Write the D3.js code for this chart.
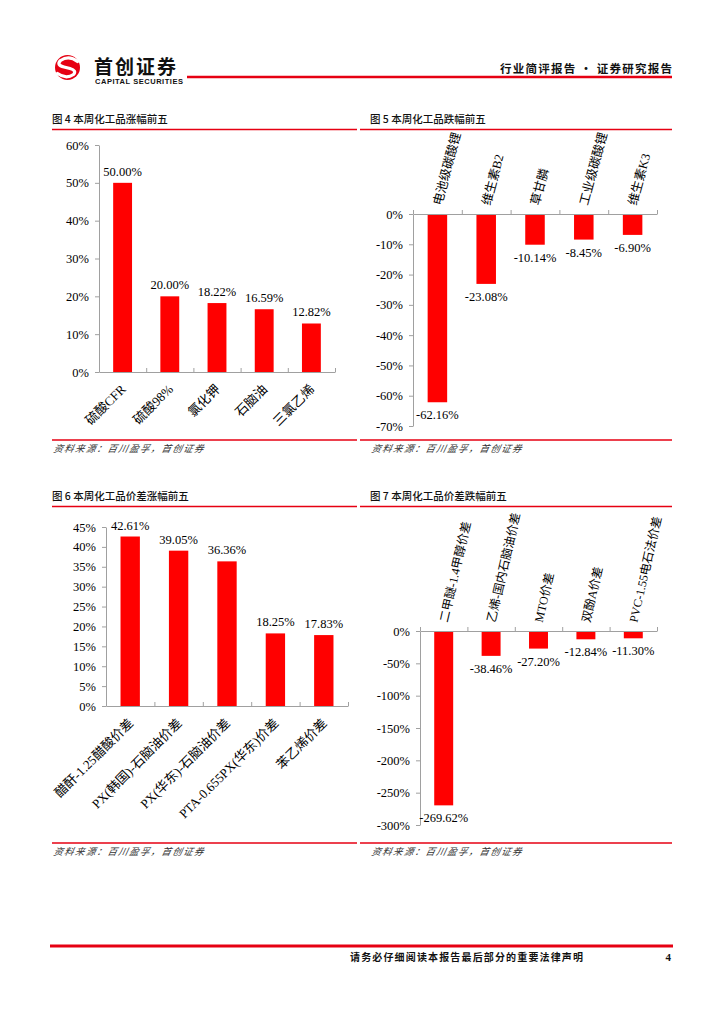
<!DOCTYPE html>
<html><head><meta charset="utf-8">
<script src="https://cdn.jsdelivr.net/npm/d3@7"></script>
<style>body{margin:0;background:#fff} svg{display:block}</style>
</head><body><svg id="c" width="724" height="1024"></svg>
<script>
// ---- data ----
const cat4 = ["硫酸CFR","硫酸98%","氯化钾","石脑油","三氯乙烯"];
const val4 = [50.00,20.00,18.22,16.59,12.82];
const ticks4 = [0,10,20,30,40,50,60];
const cat5 = ["电池级碳酸锂","维生素B2","草甘膦","工业级碳酸锂","维生素K3"];
const val5 = [-62.16,-23.08,-10.14,-8.45,-6.90];
const ticks5 = [0,-10,-20,-30,-40,-50,-60,-70];
const cat6 = ["醋酐-1.25醋酸价差","PX(韩国)-石脑油价差","PX(华东)-石脑油价差","PTA-0.655PX(华东)价差","苯乙烯价差"];
const val6 = [42.61,39.05,36.36,18.25,17.83];
const ticks6 = [0,5,10,15,20,25,30,35,40,45];
const cat7 = ["二甲醚-1.4甲醇价差","乙烯-国内石脑油价差","MTO价差","双酚A价差","PVC-1.55电石法价差"];
const val7 = [-269.62,-38.46,-27.20,-12.84,-11.30];
const ticks7 = [0,-50,-100,-150,-200,-250,-300];
const titles = ["图 4 本周化工品涨幅前五","图 5 本周化工品跌幅前五","图 6 本周化工品价差涨幅前五","图 7 本周化工品价差跌幅前五"];
const sourceText = "资料来源：百川盈孚，首创证券";

const svg = d3.select("#c");
const RED = "#ff0000", LINE_RED = "#e60012", AXIS = "#a0a0a0";
const SERIF = "'Liberation Serif','Times New Roman','Noto Sans CJK SC',serif";
const SANS = "'Noto Sans CJK SC','Noto Sans',sans-serif";

// ---- header ----
svg.append("circle").attr("cx",67.5).attr("cy",67.5).attr("r",12.5).attr("fill","#e60012");
svg.append("path").attr("d","M77.5 61.5 Q69 55 60.5 60.5 Q56 65 64 67 L70 68.5 Q77 70.5 73.5 74.5 Q66 79.5 57.5 73.5")
  .attr("fill","none").attr("stroke","#fff").attr("stroke-width",3.2).attr("stroke-linecap","round");
svg.append("text").attr("x",94).attr("y",74).attr("font-family",SANS).attr("font-weight","bold")
  .attr("font-size",19).attr("textLength",82).attr("fill","#111").text("首创证券");
svg.append("text").attr("x",95).attr("y",84).attr("font-family","'Liberation Sans',Arial,sans-serif").attr("font-weight","bold")
  .attr("font-size",7.5).attr("textLength",88).attr("fill","#111").text("CAPITAL SECURITIES");
svg.append("line").attr("x1",187).attr("x2",672).attr("y1",77).attr("y2",77).attr("stroke",LINE_RED).attr("stroke-width",2.5);
svg.append("text").attr("x",672).attr("y",73).attr("text-anchor","end").attr("font-family",SANS).attr("font-weight","bold")
  .attr("font-size",11.5).attr("textLength",172).attr("fill","#111").text("行业简评报告 · 证券研究报告");

// ---- footer ----
svg.append("line").attr("x1",50).attr("x2",673).attr("y1",946).attr("y2",946).attr("stroke",LINE_RED).attr("stroke-width",3);
svg.append("text").attr("x",350).attr("y",961).attr("font-family",SANS).attr("font-weight","bold")
  .attr("font-size",10).attr("textLength",233).attr("fill","#111").text("请务必仔细阅读本报告最后部分的重要法律声明");
svg.append("text").attr("x",671).attr("y",961).attr("text-anchor","end").attr("font-family",SERIF).attr("font-weight","bold")
  .attr("font-size",11).attr("fill","#111").text("4");

// ---- panels ----
function panel(o){
  const g = svg.append("g");
  g.append("text").attr("x",o.tx).attr("y",o.ty).attr("font-family",SANS).attr("font-size",10.5)
    .attr("fill","#111").attr("font-weight",500).text(o.title);
  g.append("line").attr("x1",o.lx0).attr("x2",o.lx1).attr("y1",o.ty+6.5).attr("y2",o.ty+6.5).attr("stroke",LINE_RED).attr("stroke-width",1.5);
  g.append("line").attr("x1",o.lx0).attr("x2",o.lx1).attr("y1",o.sy).attr("y2",o.sy).attr("stroke",LINE_RED).attr("stroke-width",1.5);
  g.append("text").attr("x",o.tx+1).attr("y",o.sy+12.5).attr("font-family",SANS).attr("font-size",9.5)
    .attr("font-style","italic").attr("transform",`skewX(-12) translate(${(o.sy+12.5)*Math.tan(12*Math.PI/180)},0)`)
    .attr("textLength",150).attr("fill","#333").text(sourceText);

  const y = d3.scaleLinear().domain(o.ydom).range([o.py0,o.py1]);
  const x = d3.scaleBand().domain(o.cats).range([o.x0,o.x1]);
  const xl = d3.scaleLinear().domain([0,o.cats.length]).range([o.x0,o.x1]);
  const bw = x.bandwidth(), barW = bw*0.40;
  const y0 = y(0);

  g.selectAll("rect.bar").data(o.vals).join("rect").attr("class","bar")
    .attr("x",(d,i)=>x(o.cats[i])+(bw-barW)/2).attr("width",barW)
    .attr("y",d=>Math.min(y(d),y0)).attr("height",d=>Math.abs(y(d)-y0)).attr("fill",RED);

  const ya = g.append("g").attr("transform",`translate(${o.x0},0)`)
    .call(d3.axisLeft(y).tickValues(o.ticks).tickFormat(d=>d+"%").tickSize(4).tickSizeOuter(0).tickPadding(6));
  ya.select(".domain").attr("stroke",AXIS);
  ya.selectAll(".tick line").attr("stroke",AXIS);
  ya.selectAll(".tick text").attr("font-family",SERIF).attr("font-size",12.5).attr("fill","#000");

  const xa = g.append("g").attr("transform",`translate(0,${y0})`)
    .call(d3.axisTop(xl).tickValues(d3.range(0,o.cats.length+1)).tickFormat("").tickSize(4).tickSizeOuter(0));
  xa.select(".domain").attr("stroke",AXIS);
  xa.selectAll(".tick line").attr("stroke",AXIS);

  g.selectAll("text.val").data(o.vals).join("text").attr("class","val")
    .attr("x",(d,i)=>x(o.cats[i])+bw/2)
    .attr("y",d=> d>=0 ? y(d)-7 : y(d)+17)
    .attr("text-anchor","middle").attr("font-family",SERIF).attr("font-size",12.5).attr("fill","#000")
    .text(d=>d.toFixed(2)+"%");

  g.selectAll("text.cat").data(o.cats).join("text").attr("class","cat")
    .attr("font-family",SERIF).attr("font-size",o.cfs).attr("fill","#000")
    .attr("text-anchor",o.top ? "start" : "end")
    .attr("transform",c=>{
      const cx = x(c)+bw/2+o.cdx, cy = y0+o.cdy;
      return `translate(${cx},${cy}) rotate(${o.rot})`;
    })
    .text(c=>c);
}

panel({title:titles[0],tx:52,ty:123,lx0:52,lx1:357,sy:440,
  cats:cat4,vals:val4,ticks:ticks4,ydom:[60,0],py0:145,py1:372,x0:99,x1:335,
  top:false,rot:-45,cdx:4,cdy:18,cfs:13});
panel({title:titles[1],tx:370,ty:123,lx0:360,lx1:672,sy:440,
  cats:cat5,vals:val5,ticks:ticks5,ydom:[0,-70],py0:214,py1:426,x0:413,x1:657,
  top:true,rot:-75,cdx:4,cdy:-8,cfs:12.5});
panel({title:titles[2],tx:52,ty:500,lx0:52,lx1:357,sy:843,
  cats:cat6,vals:val6,ticks:ticks6,ydom:[45,0],py0:527,py1:706,x0:106,x1:348,
  top:false,rot:-45,cdx:4,cdy:18,cfs:13});
panel({title:titles[3],tx:370,ty:500,lx0:360,lx1:672,sy:843,
  cats:cat7,vals:val7,ticks:ticks7,ydom:[0,-300],py0:631,py1:825,x0:420,x1:657,
  top:true,rot:-77,cdx:4,cdy:-8,cfs:12});
</script></body></html>
